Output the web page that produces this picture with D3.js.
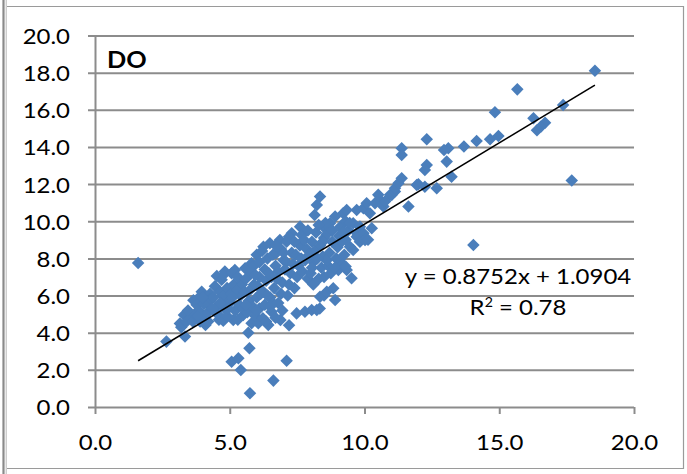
<!DOCTYPE html>
<html>
<head>
<meta charset="utf-8">
<script src="https://cdn.jsdelivr.net/npm/d3@7/dist/d3.min.js"></script>
<style>
  html, body { margin: 0; padding: 0; background: #fff; }
  svg { display: block; }
  text { font-family: Lato, Carlito, "Liberation Sans", Arial, sans-serif; }
</style>
</head>
<body>
<svg id="chart" width="687" height="474"></svg>
<script>
// Dissolved oxygen: paired measurements [x, y]
const doPoints = [
  [1.6, 7.75], [2.65, 3.52], [3.34, 3.8], [3.15, 4.5], [3.3, 4.95], [3.2, 4.3], [3.4, 4.6],
  [3.55, 4.8], [3.63, 4.6], [3.7, 5.0], [3.65, 5.75], [3.83, 5.85], [3.77, 5.5], [3.96, 6.2],
  [3.9, 4.6], [3.85, 5.2], [4.0, 4.8], [4.05, 5.55], [4.14, 5.6], [4.27, 6.1], [4.2, 4.6],
  [4.2, 5.1], [4.3, 5.8], [4.1, 4.42], [4.52, 7.05], [4.45, 6.5], [4.4, 5.9], [4.5, 5.4],
  [4.6, 4.7], [4.55, 5.0], [4.64, 6.2], [4.7, 6.85], [4.76, 4.65], [4.8, 5.3], [4.85, 5.8],
  [4.82, 7.3], [4.9, 6.4], [4.75, 6.0], [4.9, 4.9], [4.76, 7.1], [5.07, 7.2], [5.13, 4.68],
  [5.0, 5.6], [5.05, 6.1], [5.15, 6.6], [5.2, 5.2], [5.19, 7.38], [5.5, 4.95], [5.35, 5.5],
  [5.4, 6.0], [5.45, 6.6], [5.3, 7.0], [5.57, 7.47], [5.5, 5.3], [5.3, 4.7], [5.07, 2.44],
  [5.32, 2.62], [5.41, 1.99], [5.73, 3.16], [5.69, 4.0], [5.75, 0.74], [5.81, 4.51],
  [5.81, 7.74], [5.65, 5.1], [5.7, 5.7], [5.75, 6.3], [5.6, 6.9], [5.8, 7.2], [5.85, 5.4],
  [6.0, 8.19], [6.06, 4.51], [5.95, 4.9], [6.0, 5.9], [6.05, 6.5], [6.1, 7.0], [5.9, 7.6],
  [6.1, 5.3], [6.1, 7.8], [6.25, 8.63], [6.43, 4.42], [6.23, 4.78], [6.3, 5.5], [6.25, 6.2],
  [6.35, 6.8], [6.3, 7.4], [6.4, 8.0], [6.2, 8.4], [6.49, 8.81], [6.55, 5.13], [6.6, 5.6],
  [6.5, 5.9], [6.65, 6.4], [6.55, 7.0], [6.7, 7.6], [6.6, 8.2], [6.72, 8.28], [6.62, 1.42],
  [6.88, 4.69], [6.86, 8.99], [6.8, 5.6], [6.9, 6.1], [6.95, 6.7], [6.8, 7.3], [7.0, 7.9],
  [6.9, 8.5], [7.11, 8.9], [7.2, 4.4], [7.11, 2.49], [7.3, 9.35], [7.15, 6.0], [7.2, 6.6],
  [7.25, 7.2], [7.1, 7.8], [7.3, 8.3], [7.2, 9.17], [7.48, 5.04], [7.61, 9.71], [7.67, 9.26],
  [7.4, 6.4], [7.5, 7.0], [7.55, 7.6], [7.45, 8.2], [7.6, 8.7], [7.7, 7.3], [7.8, 7.9],
  [7.85, 8.5], [7.75, 9.0], [7.9, 6.9], [7.9, 9.5], [7.79, 5.13], [8.04, 5.22], [8.23, 5.22],
  [8.34, 5.3], [8.0, 7.2], [8.1, 7.8], [8.15, 8.4], [8.05, 8.9], [8.2, 9.4], [8.15, 10.34],
  [8.23, 10.88], [8.1, 6.6], [8.35, 11.33], [8.35, 5.94], [8.53, 9.62], [8.4, 7.5],
  [8.45, 8.1], [8.35, 8.7], [8.5, 9.1], [8.3, 6.9], [8.5, 7.0], [8.5, 6.0], [8.6, 6.21],
  [8.72, 9.89], [8.65, 7.6], [8.7, 8.3], [8.8, 8.9], [8.6, 9.3], [8.84, 6.39], [8.75, 7.2],
  [8.6, 7.9], [8.91, 5.76], [8.91, 10.25], [9.03, 7.38], [9.15, 7.74], [8.95, 8.0],
  [9.0, 8.6], [9.05, 9.2], [9.1, 9.7], [9.21, 10.43], [9.34, 10.61], [9.34, 7.38],
  [9.46, 8.63], [9.3, 9.0], [9.25, 8.2], [9.4, 9.5], [9.3, 10.0], [9.3, 7.56], [9.52, 6.93],
  [9.58, 8.45], [9.58, 9.89], [9.71, 9.17], [9.71, 10.61], [9.72, 9.35], [9.83, 9.71],
  [9.83, 8.9], [9.96, 9.35], [9.96, 10.7], [10.02, 8.99], [10.08, 10.97], [10.2, 10.43],
  [10.27, 9.62], [10.13, 9.0], [10.39, 10.97], [10.51, 11.42], [10.64, 11.06], [10.7, 10.79],
  [10.76, 11.06], [10.95, 11.42], [11.01, 11.42], [11.13, 11.6], [11.13, 11.78],
  [11.26, 12.05], [11.38, 12.32], [11.63, 10.79], [11.38, 13.93], [11.38, 13.57],
  [12.0, 11.99], [11.94, 11.95], [12.24, 11.86], [12.68, 11.78], [12.31, 14.42],
  [12.31, 13.03], [12.24, 12.76], [13.23, 12.4], [13.11, 13.93], [12.95, 13.84],
  [13.05, 13.21], [13.69, 14.02], [14.16, 14.32], [14.66, 14.41], [14.97, 14.59],
  [14.84, 15.87], [14.04, 8.72], [15.67, 17.1], [16.27, 15.55], [16.4, 14.9], [16.7, 15.3],
  [16.55, 15.1], [17.37, 16.26], [17.69, 12.19], [18.55, 18.1],
  [5.25, 6.3], [5.55, 6.2], [5.6, 5.5], [5.9, 6.6], [5.95, 7.1], [6.15, 6.1], [6.45, 7.2],
  [6.4, 6.0], [6.75, 6.9], [6.7, 8.7], [7.05, 7.4], [7.0, 8.3], [7.35, 7.7], [7.4, 8.9],
  [7.65, 8.0], [7.95, 8.2], [8.05, 7.5], [8.25, 8.0], [8.45, 8.9], [8.55, 9.9], [8.3, 9.8],
  [8.8, 9.5], [8.9, 7.5], [9.15, 8.9], [9.45, 9.9], [9.2, 9.4], [4.35, 5.3], [4.65, 5.6],
  [4.95, 5.3], [5.1, 5.9], [3.45, 5.2], [3.8, 4.9], [4.0, 5.9], [6.0, 5.2], [6.35, 4.6],
  [6.7, 4.8], [6.95, 5.2], [6.5, 5.4]
];

// Least-squares fit shown on the chart
const trendSlope = 0.8752;
const trendIntercept = 1.0904;
const trendR2 = 0.78;

const xTicks = [0, 5, 10, 15, 20];
const yTicks = [0, 2, 4, 6, 8, 10, 12, 14, 16, 18, 20];
const chartTitle = "DO";

const svg = d3.select("#chart");
const W = 687, H = 474;

const x = d3.scaleLinear().domain([0, 20]).range([95, 634]);
const y = d3.scaleLinear().domain([0, 20]).range([407, 35.5]);

const gridColor = "#8c8c8c";
const markerColor = "#4a7ebb";
const textStretch = 1.09;

// Outer frame
svg.append("rect").attr("x", 0).attr("y", 0).attr("width", W).attr("height", H).attr("fill", "#fff");
svg.append("line").attr("x1", 7).attr("x2", 684).attr("y1", 6.5).attr("y2", 6.5)
  .attr("stroke", "#9a9a9a").attr("stroke-width", 1.2);
svg.append("line").attr("x1", 7).attr("x2", 684).attr("y1", 468.5).attr("y2", 468.5)
  .attr("stroke", "#9a9a9a").attr("stroke-width", 1.2);
svg.append("line").attr("x1", 683.5).attr("x2", 683.5).attr("y1", 6).attr("y2", 469)
  .attr("stroke", "#9a9a9a").attr("stroke-width", 1.2);
svg.append("line").attr("x1", 3.5).attr("x2", 3.5).attr("y1", 0).attr("y2", H)
  .attr("stroke", "#8a8a8a").attr("stroke-width", 2.2);
svg.append("line").attr("x1", 6.2).attr("x2", 6.2).attr("y1", 0).attr("y2", H)
  .attr("stroke", "#b8b8b8").attr("stroke-width", 1);

// Y axis: gridlines extend left past the axis as tick marks
const yAxis = d3.axisLeft(y)
  .tickValues(yTicks)
  .tickSize(-(634 - 95))
  .tickSizeOuter(0)
  .tickFormat(d3.format(".1f"));
const gy = svg.append("g").attr("transform", "translate(95,0)").call(yAxis);
gy.select(".domain").attr("stroke", gridColor).attr("stroke-width", 2);
gy.selectAll(".tick line").attr("stroke", gridColor).attr("stroke-width", 2)
  .attr("x1", -7);
gy.selectAll(".tick text").attr("fill", "#000").style("font-size", "22px")
  .attr("x", 0).attr("dy", "0.36em")
  .attr("transform", `translate(-25,0) scale(${textStretch},1)`);

// X axis: downward ticks only
const xAxis = d3.axisBottom(x)
  .tickValues(xTicks)
  .tickSize(7)
  .tickSizeOuter(0)
  .tickFormat(d3.format(".1f"));
const gx = svg.append("g").attr("transform", `translate(0,${y(0)})`).call(xAxis);
gx.select(".domain").remove();
gx.selectAll(".tick line").attr("stroke", gridColor).attr("stroke-width", 2);
gx.selectAll(".tick text").attr("fill", "#000").style("font-size", "22px")
  .attr("y", 0).attr("dy", 0)
  .attr("transform", `translate(0,42.5) scale(${textStretch},1)`);

// Data markers: diamonds
const diamond = d3.symbol().type(d3.symbolDiamond2).size(100);
svg.append("g").selectAll("path")
  .data(doPoints)
  .join("path")
  .attr("d", diamond)
  .attr("transform", d => `translate(${x(d[0])},${y(d[1])})`)
  .attr("fill", markerColor);

// Linear trendline across the data range
const xExtent = d3.extent(doPoints, d => d[0]);
const trend = xExtent.map(v => [v, trendSlope * v + trendIntercept]);
svg.append("path")
  .attr("d", d3.line().x(d => x(d[0])).y(d => y(d[1]))(trend))
  .attr("stroke", "#000").attr("stroke-width", 1.6).attr("fill", "none");

// Title
svg.append("text")
  .attr("transform", "translate(107,68) scale(1.15,1)")
  .style("font-size", "22px").style("font-weight", "bold")
  .text(chartTitle);

// Trendline equation
const eq = svg.append("text")
  .attr("transform", `translate(518,0) scale(${textStretch},1)`)
  .attr("text-anchor", "middle").style("font-size", "22px");
eq.append("tspan").attr("x", 0).attr("y", 284)
  .text(`y = ${trendSlope}x + ${trendIntercept}`);
const r2 = eq.append("tspan").attr("x", 0).attr("y", 315);
r2.append("tspan").text("R");
r2.append("tspan").attr("dy", -8).style("font-size", "13px").text("2");
r2.append("tspan").attr("dy", 8).text(` = ${trendR2}`);
</script>
</body>
</html>
